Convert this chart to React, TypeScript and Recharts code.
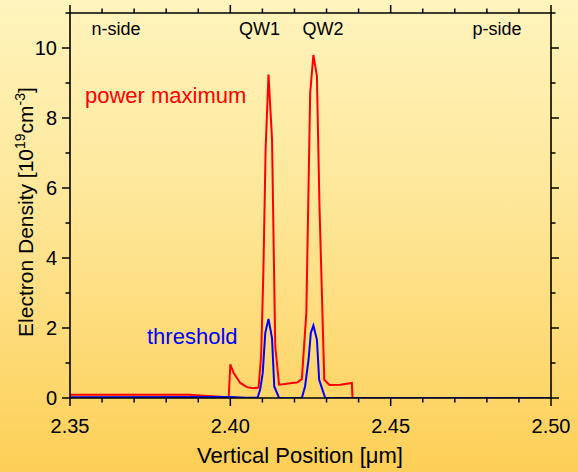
import { LineChart, Line, XAxis, YAxis } from "recharts";

// axis ticks (minor every 0.01 / 1, labels only on the major ones)
const X_TICKS = [2.35, 2.36, 2.37, 2.38, 2.39, 2.4, 2.41, 2.42, 2.43, 2.44, 2.45, 2.46, 2.47, 2.48, 2.49, 2.5];
const X_LABELED = [2.35, 2.4, 2.45, 2.5];
const Y_TICKS = [0, 1, 2, 3, 4, 5, 6, 7, 8, 9, 10, 11];
const Y_LABELED = [0, 2, 4, 6, 8, 10];

// power maximum (red)
const RED_X = [
  2.35, 2.387, 2.393, 2.3995, 2.4, 2.401, 2.4031, 2.4052, 2.4072, 2.4088, 2.4096, 2.4103, 2.411, 2.4119,
  2.413, 2.414, 2.4152, 2.4171, 2.4192, 2.4208, 2.4223, 2.4237, 2.4249, 2.4259, 2.427, 2.4278, 2.4293,
  2.4309, 2.4343, 2.4379, 2.4381, 2.45, 2.5,
];
const RED_Y = [
  0.09, 0.09, 0.06, 0.02, 0.96, 0.72, 0.43, 0.31, 0.28, 0.3, 1.19, 3.57, 7.1, 9.24,
  7.4, 1.48, 0.38, 0.4, 0.43, 0.44, 0.54, 2.43, 8.71, 9.8, 9.2, 5.48, 0.52,
  0.37, 0.38, 0.43, 0, 0, 0,
];

// threshold (blue)
const BLUE_X = [
  2.35, 2.4, 2.405, 2.4085, 2.4093, 2.4101, 2.4109, 2.4119, 2.413, 2.4137, 2.4152, 2.4223, 2.4233, 2.4244,
  2.4251, 2.4259, 2.427, 2.4277, 2.4296, 2.45, 2.5,
];
const BLUE_Y = [
  0.02, 0.03, 0.01, 0.01, 0.24, 0.71, 1.86, 2.26, 1.71, 0.33, 0, 0, 0.33, 1.1,
  1.86, 2.07, 1.67, 0.52, 0, 0, 0,
];

const redData = RED_X.map((x, i) => ({ x, y: RED_Y[i] }));
const blueData = BLUE_X.map((x, i) => ({ x, y: BLUE_Y[i] }));

const FONT = '"Liberation Sans", Arial, Helvetica, sans-serif';
const RED = "#ff0000";
const BLUE = "#0000ff";
const MAJOR = 8;
const MINOR = 4.5;

const has = (list: number[], v: number) => list.some((t) => Math.abs(t - v) < 1e-6);

function BottomTick({ x, y, payload }: any) {
  const major = has(X_LABELED, payload.value);
  return (
    <g>
      <line x1={x} x2={x} y1={y} y2={y + (major ? MAJOR : MINOR)} stroke="#000" strokeWidth={1.5} />
      {major && (
        <text x={x} y={y + 35} textAnchor="middle" fontSize={20} fontFamily={FONT} fill="#000">
          {payload.value.toFixed(2)}
        </text>
      )}
    </g>
  );
}

function TopTick({ x, y, payload }: any) {
  const major = has(X_LABELED, payload.value);
  return <line x1={x} x2={x} y1={y} y2={y - (major ? MAJOR : MINOR)} stroke="#000" strokeWidth={1.5} />;
}

function LeftTick({ x, y, payload }: any) {
  const major = has(Y_LABELED, payload.value);
  return (
    <g>
      <line x1={x} x2={x - (major ? MAJOR : MINOR)} y1={y} y2={y} stroke="#000" strokeWidth={1.5} />
      {major && (
        <text x={x - 13} y={y} dy="0.36em" textAnchor="end" fontSize={20} fontFamily={FONT} fill="#000">
          {payload.value}
        </text>
      )}
    </g>
  );
}

function RightTick({ x, y, payload }: any) {
  const major = has(Y_LABELED, payload.value);
  return <line x1={x} x2={x + (major ? MAJOR : MINOR)} y1={y} y2={y} stroke="#000" strokeWidth={1.5} />;
}

const axisLine = { stroke: "#000", strokeWidth: 1.6 };

export default function App() {
  return (
    <div
      style={{
        position: "absolute",
        left: 0,
        top: 0,
        width: 578,
        height: 472,
        background: "linear-gradient(to bottom, #fff4bd 0%, #fee697 45%, #fdcf56 100%)",
      }}
    >
      <LineChart width={578} height={472} margin={{ top: 12, right: 26, bottom: 0, left: 0 }}>
        <XAxis
          xAxisId="bottom"
          type="number"
          dataKey="x"
          domain={[2.35, 2.5]}
          ticks={X_TICKS}
          interval={0}
          allowDataOverflow
          height={74}
          tickSize={0}
          tickMargin={0}
          tick={BottomTick}
          axisLine={axisLine}
        />
        <XAxis
          xAxisId="top"
          orientation="top"
          type="number"
          dataKey="x"
          domain={[2.35, 2.5]}
          ticks={X_TICKS}
          interval={0}
          allowDataOverflow
          height={1}
          tickSize={0}
          tickMargin={0}
          tick={TopTick}
          axisLine={axisLine}
        />
        <YAxis
          yAxisId="left"
          type="number"
          domain={[0, 11]}
          ticks={Y_TICKS}
          interval={0}
          allowDataOverflow
          width={70}
          tickSize={0}
          tickMargin={0}
          tick={LeftTick}
          axisLine={axisLine}
        />
        <YAxis
          yAxisId="right"
          orientation="right"
          type="number"
          domain={[0, 11]}
          ticks={Y_TICKS}
          interval={0}
          allowDataOverflow
          width={1}
          tickSize={0}
          tickMargin={0}
          tick={RightTick}
          axisLine={axisLine}
        />
        <Line
          xAxisId="bottom"
          yAxisId="left"
          data={redData}
          dataKey="y"
          type="linear"
          stroke={RED}
          strokeWidth={2}
          dot={false}
          isAnimationActive={false}
        />
        <Line
          xAxisId="bottom"
          yAxisId="left"
          data={blueData}
          dataKey="y"
          type="linear"
          stroke={BLUE}
          strokeWidth={2}
          dot={false}
          isAnimationActive={false}
        />

        <text x={116} y={35} textAnchor="middle" fontSize={18} fontFamily={FONT} fill="#000">n-side</text>
        <text x={259.5} y={35} textAnchor="middle" fontSize={18} fontFamily={FONT} fill="#000">QW1</text>
        <text x={323} y={35} textAnchor="middle" fontSize={18} fontFamily={FONT} fill="#000">QW2</text>
        <text x={497} y={35} textAnchor="middle" fontSize={18} fontFamily={FONT} fill="#000">p-side</text>
        <text x={85} y={103} fontSize={22} fontFamily={FONT} fill={RED}>power maximum</text>
        <text x={147} y={344} fontSize={22} fontFamily={FONT} fill={BLUE}>threshold</text>

        <text x={300} y={463} textAnchor="middle" fontSize={22} fontFamily={FONT} fill="#000">
          Vertical Position [μm]
        </text>
        <text transform="translate(33, 212) rotate(-90)" textAnchor="middle" fontSize={21} fontFamily={FONT} fill="#000">
          Electron Density [10
          <tspan dy={-8} fontSize={14}>19</tspan>
          <tspan dy={8}>cm</tspan>
          <tspan dy={-8} fontSize={14}>-3</tspan>
          <tspan dy={8}>]</tspan>
        </text>
      </LineChart>
    </div>
  );
}
